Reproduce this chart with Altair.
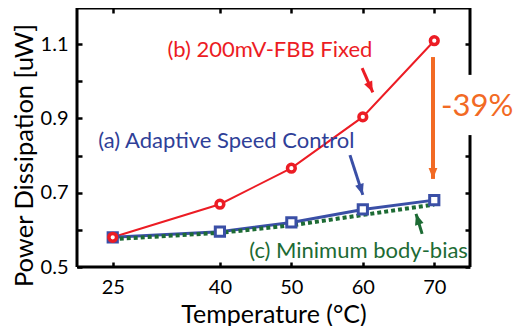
import altair as alt
import pandas as pd

# ---- data ----
temps = [25, 40, 50, 60, 70]
fbb_fixed = [0.58, 0.669, 0.766, 0.904, 1.109]
adaptive = [0.58, 0.595, 0.62, 0.655, 0.68]
min_bias = [0.575, 0.592, 0.612, 0.640, 0.668]

x_ticks = [25, 40, 50, 60, 70]
y_ticks = [0.5, 0.6, 0.7, 0.8, 0.9, 1.0, 1.1]
y_right_ticks = [0.5, 0.6, 0.7, 0.8, 1.1]
y_labels = ["0.5", "0.7", "0.9", "1.1"]

X_DOM = [20, 75]
Y_DOM = [0.5, 1.197]

RED = "#ec1c24"
BLUE = "#3a4fa6"
BLUE_TXT = "#2f3f98"
GREEN = "#1d6b34"
ORANGE = "#f26a24"
FONT = "Lato"

# annotation texts (data coordinates)
ann_text = ["(b) 200mV-FBB Fixed", "(a) Adaptive Speed Control", "(c) Minimum body-bias"]
ann_x = [47.0, 40.9, 59.4]
ann_y = [1.084, 0.839, 0.543]
ann_color = [RED, BLUE_TXT, GREEN]

pct_text = ["-39%"]
pct_x = [76.0]
pct_y = [0.930]

# arrows: tail -> tip (data coordinates), angle of head
arr_x = [59.9, 58.2, 68.3, 69.82]
arr_y = [1.035, 0.801, 0.589, 1.065]
arr_x2 = [61.4, 60.0, 67.45, 69.82]
arr_y2 = [0.970, 0.694, 0.643, 0.737]
arr_ang = [155, 162, 343, 180]
arr_color = [RED, BLUE, GREEN, ORANGE]
arr_width = [3, 3, 3, 4]

# frame (right side interrupted by the -39% label)
fr_x = [20, 20, 20, 75, 75]
fr_x2 = [20, 75, 75, 75, 75]
fr_y = [0.5, 0.5, 1.197, 0.5, 1.017]
fr_y2 = [1.197, 0.5, 1.197, 0.855, 1.197]

XS = alt.Scale(domain=X_DOM, nice=False, zero=False)
YS = alt.Scale(domain=Y_DOM, nice=False, zero=False)

df_red = pd.DataFrame({"t": temps, "v": fbb_fixed})
df_blue = pd.DataFrame({"t": temps, "v": adaptive})
df_green = pd.DataFrame({"t": temps, "v": min_bias})
df_ann = pd.DataFrame({"x": ann_x, "y": ann_y, "text": ann_text, "c": ann_color})
df_pct = pd.DataFrame({"x": pct_x, "y": pct_y, "text": pct_text})
df_arr = pd.DataFrame({"x": arr_x, "y": arr_y, "x2": arr_x2, "y2": arr_y2,
                       "a": arr_ang, "c": arr_color, "w": arr_width})
df_fr = pd.DataFrame({"x": fr_x, "x2": fr_x2, "y": fr_y, "y2": fr_y2})

label_expr = ("indexof(" + str(y_labels) + ", format(datum.value, '.1f')) >= 0 "
              "? format(datum.value, '.1f') : ''")

bottom_axis = alt.Axis(values=x_ticks, orient="bottom", domain=False, offset=-5, tickSize=5,
                       labelPadding=10, title="Temperature (°C)", titleFontSize=25,
                       titleFontWeight="normal", titlePadding=5)
left_axis = alt.Axis(values=y_ticks, orient="left", domain=False, offset=-5, tickSize=5,
                     labelPadding=9, labelExpr=label_expr, title="Power Dissipation [uW]",
                     titleFontSize=25.5, titleFontWeight="normal", titlePadding=3, titleY=147)
top_axis = alt.Axis(values=x_ticks, orient="top", domain=False, offset=-5, tickSize=5,
                    labels=False, title="")
right_axis = alt.Axis(values=y_right_ticks, orient="right", domain=False, offset=-5, tickSize=5,
                      labels=False, title="")

red_line = alt.Chart(df_red).mark_line(color=RED, strokeWidth=2).encode(
    x=alt.X("t:Q", scale=XS, axis=bottom_axis),
    y=alt.Y("v:Q", scale=YS, axis=left_axis),
)
blue_line = alt.Chart(df_blue).mark_line(color=BLUE, strokeWidth=3).encode(
    x=alt.X("t:Q", scale=XS, axis=top_axis),
    y=alt.Y("v:Q", scale=YS, axis=right_axis),
)
green_line = alt.Chart(df_green).mark_line(color=GREEN, strokeWidth=4, strokeDash=[4, 3]).encode(
    x=alt.X("t:Q", scale=XS, axis=None),
    y=alt.Y("v:Q", scale=YS, axis=None),
)
blue_pts = alt.Chart(df_blue).mark_point(shape="square", filled=True, fill="white", stroke=BLUE,
                                         strokeWidth=3, size=85, opacity=1).encode(
    x=alt.X("t:Q", scale=XS, axis=None),
    y=alt.Y("v:Q", scale=YS, axis=None),
)
red_pts = alt.Chart(df_red).mark_point(shape="circle", filled=True, fill="white", stroke=RED,
                                       strokeWidth=3.5, size=60, opacity=1).encode(
    x=alt.X("t:Q", scale=XS, axis=None),
    y=alt.Y("v:Q", scale=YS, axis=None),
)

frame = alt.Chart(df_fr).mark_rule(color="black", strokeWidth=3).encode(
    x=alt.X("x:Q", scale=XS, axis=None), x2="x2:Q",
    y=alt.Y("y:Q", scale=YS, axis=None), y2="y2:Q",
)

arr_shaft = alt.Chart(df_arr).mark_rule().encode(
    x=alt.X("x:Q", scale=XS, axis=None), x2="x2:Q",
    y=alt.Y("y:Q", scale=YS, axis=None), y2="y2:Q",
    color=alt.Color("c:N", scale=None),
    strokeWidth=alt.StrokeWidth("w:Q", scale=None),
)
arr_head = alt.Chart(df_arr).mark_point(shape="M0,0L-0.8,2L0.8,2Z", filled=True, size=121,
                                        opacity=1).encode(
    x=alt.X("x2:Q", scale=XS, axis=None),
    y=alt.Y("y2:Q", scale=YS, axis=None),
    color=alt.Color("c:N", scale=None),
    angle=alt.Angle("a:Q", scale=None),
)

ann = alt.Chart(df_ann).mark_text(font=FONT, fontSize=22, align="center", baseline="middle").encode(
    x=alt.X("x:Q", scale=XS, axis=None),
    y=alt.Y("y:Q", scale=YS, axis=None),
    text="text:N",
    color=alt.Color("c:N", scale=None),
)
pct = alt.Chart(df_pct).mark_text(font=FONT, fontSize=31, align="center", baseline="middle",
                                  color=ORANGE).encode(
    x=alt.X("x:Q", scale=XS, axis=None),
    y=alt.Y("y:Q", scale=YS, axis=None),
    text="text:N",
)

chart = alt.layer(
    red_line, blue_line, frame, green_line, blue_pts, red_pts, arr_shaft, arr_head, ann, pct
).resolve_axis(x="independent", y="independent").properties(
    width=393, height=259,
    autosize=alt.AutoSizeParams(type="none"),
    padding={"left": 69, "top": 0, "right": 46, "bottom": 59},
).configure_view(stroke=None).configure_axis(
    grid=False, labelFont=FONT, labelFontSize=20, labelColor="black", tickColor="black",
    tickWidth=2.5, titleFont=FONT, titleColor="black",
)

chart.save("out.html", embed_options={"renderer": "svg", "actions": False})
